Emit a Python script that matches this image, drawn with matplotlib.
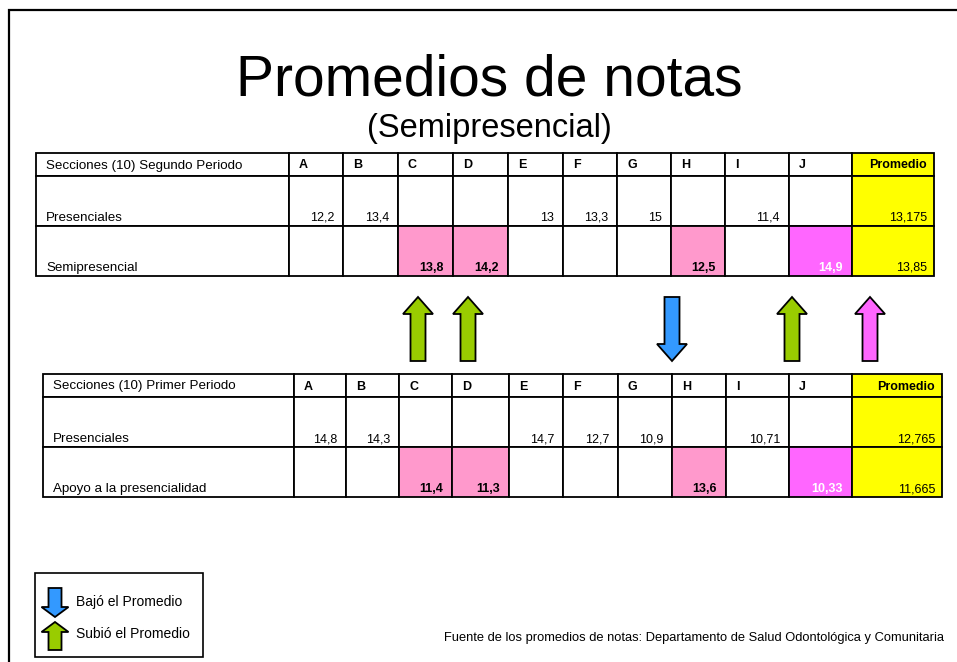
import matplotlib
matplotlib.use("Agg")
import matplotlib.pyplot as plt
from matplotlib.patches import Rectangle, Polygon

plt.rcParams['font.family'] = ['Liberation Sans', 'DejaVu Sans']

# data
secciones = ["A", "B", "C", "D", "E", "F", "G", "H", "I", "J"]

seg_presenciales = [12.2, 13.4, None, None, 13, 13.3, 15, None, 11.4, None]
seg_semi = [None, None, 13.8, 14.2, None, None, None, 12.5, None, 14.9]
seg_prom = [13.175, 13.85]

pri_presenciales = [14.8, 14.3, None, None, 14.7, 12.7, 10.9, None, 10.71, None]
pri_apoyo = [None, None, 11.4, 11.3, None, None, None, 13.6, None, 10.33]
pri_prom = [12.765, 11.665]

# cells with colour in the second row (index -> colour)
pink = "#FF99CC"
magenta = "#FF66FF"
yellow = "#FFFF00"
green = "#99CC00"
blue = "#3399FF"
resaltado = {2: pink, 3: pink, 7: pink, 9: magenta}

# layout (pixels)
top_cols = [36, 289, 343, 398, 453, 508, 563, 617, 671, 725, 789, 852, 934]
top_rows = [153, 176, 226, 276]
bot_cols = [43, 294, 346, 399, 452, 509, 563, 618, 672, 726, 789, 852, 942]
bot_rows = [374, 397, 447, 497]

fs = 9       # numbers / headers
fs_lab = 9.6  # row labels
lw = 1.3


def fmt(v):
    return f"{v:g}".replace(".", ",")


fig = plt.figure(figsize=(9.57, 6.62), dpi=100)
ax = fig.add_axes([0, 0, 1, 1])
ax.set_xlim(0, 957)
ax.set_ylim(662, 0)
ax.axis("off")


def tabla(cols, rows, titulo, labels, fila1, fila2, prom):
    ncol = len(cols) - 1
    for r in range(3):
        for c in range(ncol):
            x0, x1 = cols[c], cols[c + 1]
            y0, y1 = rows[r], rows[r + 1]
            fc = "white"
            if c == ncol - 1:
                fc = yellow
            elif r == 2 and (c - 1) in resaltado:
                fc = resaltado[c - 1]
            ax.add_patch(Rectangle((x0, y0), x1 - x0, y1 - y0, fc=fc,
                                   ec="black", lw=lw))
    # header
    ymid = (rows[0] + rows[1]) / 2 + 1
    ax.text(cols[0] + 10, ymid, titulo, fontsize=fs_lab, va="center")
    for i, s in enumerate(secciones):
        ax.text(cols[i + 1] + 10, ymid, s, fontsize=fs, weight="bold",
                va="center")
    ax.text(cols[-1] - 7, ymid, "Promedio", fontsize=fs, weight="bold",
            va="center", ha="right")
    # body rows
    for r, vals in enumerate([fila1, fila2]):
        yb = rows[r + 2] - 5
        ax.text(cols[0] + 10, yb, labels[r], fontsize=fs_lab, va="baseline")
        for i, v in enumerate(vals):
            if v is None:
                continue
            bold = r == 1
            col = "white" if (r == 1 and resaltado.get(i) == magenta) else "black"
            ax.text(cols[i + 2] - 9, yb, fmt(v), fontsize=fs, va="baseline",
                    ha="right", weight="bold" if bold else "normal", color=col)
        ax.text(cols[-1] - 7, yb, fmt(prom[r]), fontsize=fs, va="baseline",
                ha="right")


def flecha(cx, y0, y1, w, s, h, color, up=True):
    if up:
        pts = [(cx, y0), (cx + w / 2, y0 + h), (cx + s / 2, y0 + h),
               (cx + s / 2, y1), (cx - s / 2, y1), (cx - s / 2, y0 + h),
               (cx - w / 2, y0 + h)]
    else:
        pts = [(cx, y1), (cx + w / 2, y1 - h), (cx + s / 2, y1 - h),
               (cx + s / 2, y0), (cx - s / 2, y0), (cx - s / 2, y1 - h),
               (cx - w / 2, y1 - h)]
    ax.add_patch(Polygon(pts, closed=True, fc=color, ec="black", lw=1.3,
                         joinstyle="miter"))


# frame
ax.plot([9, 9, 960], [665, 10, 10], color="black", lw=1.6,
        solid_joinstyle="miter")

ax.text(489, 80, "Promedios de notas", fontsize=41, ha="center", va="center")
ax.text(489, 128, "(Semipresencial)", fontsize=23.5, ha="center", va="center")

tabla(top_cols, top_rows, "Secciones (10) Segundo Periodo",
      ["Presenciales", "Semipresencial"], seg_presenciales, seg_semi, seg_prom)
tabla(bot_cols, bot_rows, "Secciones (10) Primer Periodo",
      ["Presenciales", "Apoyo a la presencialidad"], pri_presenciales,
      pri_apoyo, pri_prom)

# arrows comparing segundo vs primer periodo
offsets = {2: 20, 3: 15, 7: 1, 9: 3}
for i, off in offsets.items():
    cx = top_cols[i + 1] + off
    up = seg_semi[i] > pri_apoyo[i]
    flecha(cx, 297, 361, 30, 15, 17, green if up else blue, up)
flecha(top_cols[-2] + 18, 297, 361, 30, 15, 17, magenta,
       seg_prom[1] > pri_prom[1])

# legend
ax.add_patch(Rectangle((35, 573), 168, 84, fc="white", ec="black", lw=1.2))
flecha(55, 588, 617, 27, 13, 10, blue, up=False)
flecha(55, 622, 650, 27, 13, 10, green, up=True)
ax.text(76, 602, "Bajó el Promedio", fontsize=10, va="center")
ax.text(76, 634, "Subió el Promedio", fontsize=10, va="center")

ax.text(444, 638, "Fuente de los promedios de notas: Departamento de Salud "
        "Odontológica y Comunitaria", fontsize=9.3, va="center")

fig.savefig("out.png", dpi=100)
